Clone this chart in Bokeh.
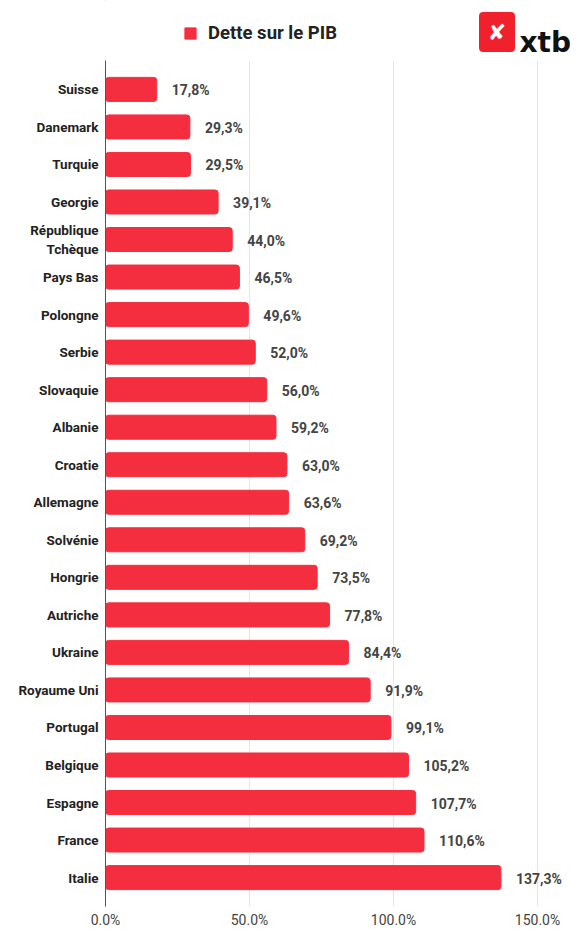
from bokeh.plotting import figure
from bokeh.layouts import column
from bokeh.models import (ColumnDataSource, FactorRange, Range1d, FixedTicker,
                          Legend, LegendItem)
from bokeh.core.properties import value
from bokeh.embed import file_html
from bokeh.resources import INLINE

countries = ["Suisse", "Danemark", "Turquie", "Georgie", "République\nTchèque",
             "Pays Bas", "Polongne", "Serbie", "Slovaquie", "Albanie", "Croatie",
             "Allemagne", "Solvénie", "Hongrie", "Autriche", "Ukraine",
             "Royaume Uni", "Portugal", "Belgique", "Espagne", "France", "Italie"]
debt = [17.8, 29.3, 29.5, 39.1, 44.0, 46.5, 49.6, 52.0, 56.0, 59.2, 63.0,
        63.6, 69.2, 73.5, 77.8, 84.4, 91.9, 99.1, 105.2, 107.7, 110.6, 137.3]
series_name = "Dette sur le PIB"
tick_values = [0, 50, 100, 150]
tick_labels = ["0.0%", "50.0%", "100.0%", "150.0%"]
brand = "xtb"

RED = "#F42E3E"
LOGO_RED = "#F0202C"
FONT = "Roboto"

W = 577
LEFT = 105
HEAD_H = 60
MAIN_H = 870

# ---------------- header: legend + logo ----------------
# data x == screen x inside this header (frame spans LEFT..W)
head = figure(width=W, height=HEAD_H, output_backend="svg", toolbar_location=None,
              x_range=Range1d(LEFT, W), y_range=Range1d(HEAD_H, 0),
              x_axis_location=None, y_axis_location=None,
              min_border_left=LEFT, min_border_right=0, min_border_top=0,
              min_border_bottom=0)
head.outline_line_color = None
head.grid.visible = False
swatch = head.hbar(y=[0], left=[0], right=[0], height=0, color=RED)
legend = Legend(items=[LegendItem(label=series_name, renderers=[swatch])],
                location=(183 - LEFT, HEAD_H - 44), orientation="horizontal",
                glyph_width=14, glyph_height=14, label_standoff=11,
                label_text_font=FONT, label_text_font_size="18.5px",
                label_text_font_style="bold", label_text_color="#222222",
                padding=0, margin=0, border_line_color=None,
                background_fill_alpha=0, label_height=20)
head.add_layout(legend, "center")
head.quad(left=[479], right=[514], top=[12], bottom=[51], color=LOGO_RED,
          border_radius=3)
head.text(x=[496.5], y=[31.5], text=["✘"], text_font=value("DejaVu Sans"),
          text_font_style="bold", text_font_size="22px", text_color="white",
          text_align="center", text_baseline="middle")
head.text(x=[519], y=[42], text=[brand], text_font=value("DejaVu Sans"),
          text_font_style="bold", text_font_size="28px", text_color="#111111",
          text_align="left", text_baseline="alphabetic")

# ---------------- main chart ----------------
labels = [f"{v:.1f}".replace(".", ",") + "%" for v in debt]
src = ColumnDataSource(dict(country=countries, debt=debt, label=labels))

p = figure(width=W, height=MAIN_H, output_backend="svg", toolbar_location=None,
           y_range=FactorRange(factors=list(reversed(countries)),
                               range_padding=0.27, range_padding_units="absolute"),
           x_range=Range1d(0, (W - LEFT) / 2.88),
           min_border_left=LEFT, min_border_top=0, min_border_right=0,
           min_border_bottom=20)
p.outline_line_color = None

bars = p.hbar(y="country", right="debt", height=0.64, source=src,
              color=RED, border_radius=3)
p.text(x="debt", y="country", text="label", source=src, x_offset=15, y_offset=1,
       text_align="left", text_baseline="middle", text_font=value(FONT),
       text_font_style="bold", text_font_size="14px", text_color="#444444")

for ax in (p.xaxis, p.yaxis):
    ax.major_tick_out = 0
    ax.major_tick_in = 0
    ax.minor_tick_out = 0
    ax.minor_tick_in = 0
    ax.major_tick_line_color = None
    ax.minor_tick_line_color = None
    ax.major_label_text_font = FONT

p.xaxis.ticker = FixedTicker(ticks=tick_values)
p.xaxis.major_label_overrides = {v: t for v, t in zip(tick_values, tick_labels)}
p.xaxis.axis_line_color = None
p.xaxis.major_label_standoff = 5
p.xaxis.major_label_text_font_size = "14px"
p.xaxis.major_label_text_color = "#444444"

p.yaxis.axis_line_color = "#555555"
p.yaxis.major_label_standoff = 7
p.yaxis.major_label_text_font_size = "13.5px"
p.yaxis.major_label_text_font_style = "bold"
p.yaxis.major_label_text_color = "#222222"

p.ygrid.grid_line_color = None
p.xgrid.grid_line_color = "#e6e6e6"
p.xgrid.ticker = FixedTicker(ticks=tick_values[1:])

layout = column(head, p, spacing=0)
open("out.html", "w").write(file_html(layout, INLINE))
